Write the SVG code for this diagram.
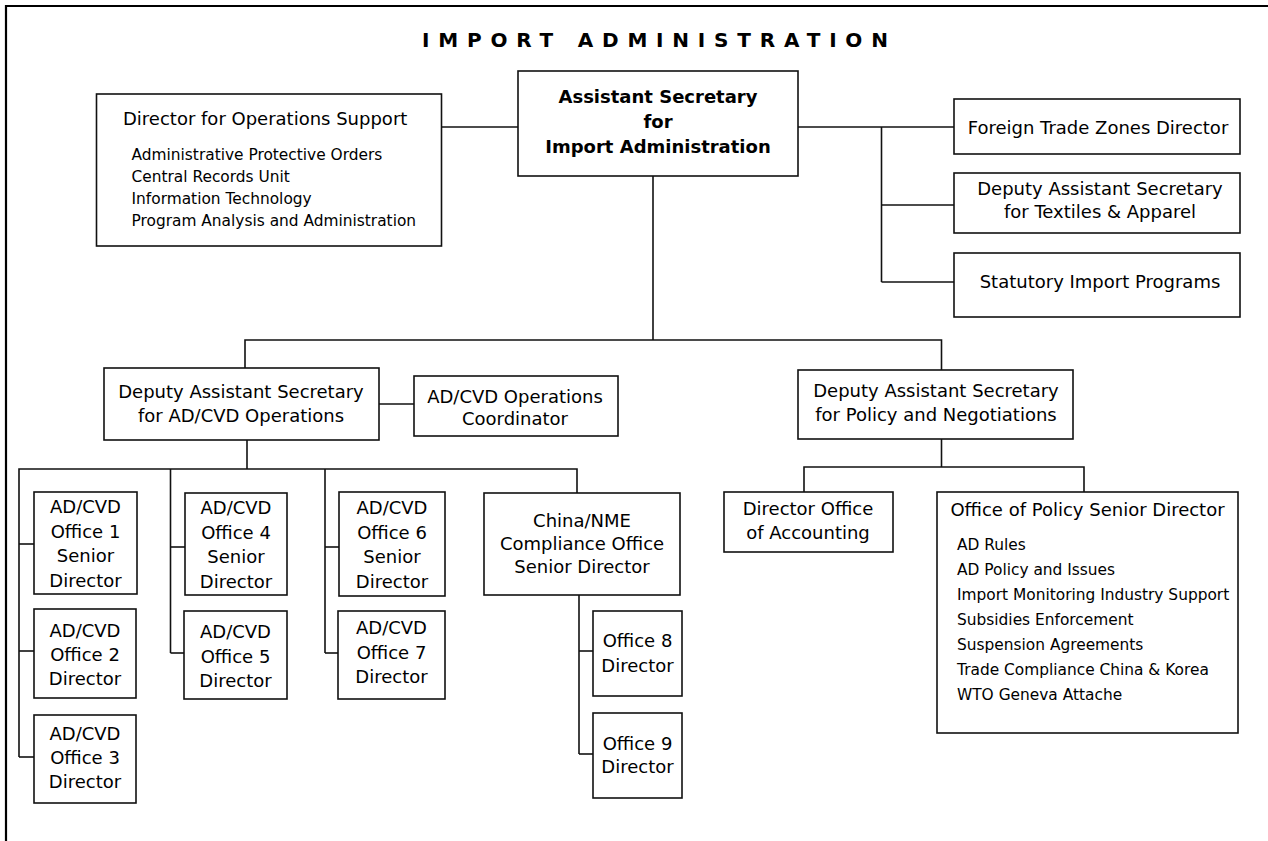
<svg xmlns="http://www.w3.org/2000/svg" width="1268" height="841" viewBox="0 0 1268 841">
<style>
  .bg { fill: #ffffff; }
  .frame { fill: none; stroke: #000; stroke-width: 2.2; }
  .box { fill: #ffffff; stroke: #111; stroke-width: 1.6; }
  .conn { fill: none; stroke: #111; stroke-width: 1.6; }
  .t { font-family: "DejaVu Sans", sans-serif; font-size: 18px; fill: #000; text-anchor: middle; }
  .tl { font-family: "DejaVu Sans", sans-serif; font-size: 18px; fill: #000; }
  .tb { font-family: "DejaVu Sans", sans-serif; font-size: 18px; font-weight: bold; fill: #000; text-anchor: middle; }
  .item { font-family: "DejaVu Sans", sans-serif; font-size: 15.4px; fill: #000; }
  .title { font-family: "DejaVu Sans", sans-serif; font-size: 20px; font-weight: bold; letter-spacing: 8.8px; fill: #000; }
</style>
<rect class="bg" x="0" y="0" width="1268" height="841"/>
<path class="frame" d="M6,841 V6 H1268"/>
<text class="title" x="422" y="46.5">IMPORT ADMINISTRATION</text>

<g id="connectors">
  <path class="conn" d="M441.5,127 H518"/>
  <path class="conn" d="M798,127 H954"/>
  <path class="conn" d="M881.5,127 V282"/>
  <path class="conn" d="M881.5,205 H954"/>
  <path class="conn" d="M881.5,282 H954"/>
  <path class="conn" d="M653,176 V340"/>
  <path class="conn" d="M245,368 V340 H941.5 V370"/>
  <path class="conn" d="M379,404 H414"/>
  <path class="conn" d="M247,440 V469"/>
  <path class="conn" d="M19,757 V469 H577 V493"/>
  <path class="conn" d="M19,544 H34"/>
  <path class="conn" d="M19,651 H34"/>
  <path class="conn" d="M19,757 H34"/>
  <path class="conn" d="M170.5,469 V653"/>
  <path class="conn" d="M170.5,547 H185"/>
  <path class="conn" d="M170.5,653 H184"/>
  <path class="conn" d="M325,469 V653"/>
  <path class="conn" d="M325,547 H339"/>
  <path class="conn" d="M325,653 H338"/>
  <path class="conn" d="M579,595 V754"/>
  <path class="conn" d="M579,651 H593"/>
  <path class="conn" d="M579,754 H593"/>
  <path class="conn" d="M941.5,439 V467"/>
  <path class="conn" d="M804,492 V467 H1084 V492"/>
</g>

<g id="ops-support">
  <rect class="box" x="96.5" y="94" width="345" height="152"/>
  <text class="tl" x="123" y="125">Director for Operations Support</text>
  <text class="item" x="131.5" y="160">Administrative Protective Orders</text>
  <text class="item" x="131.5" y="182">Central Records Unit</text>
  <text class="item" x="131.5" y="204">Information Technology</text>
  <text class="item" x="131.5" y="226">Program Analysis and Administration</text>
</g>

<g id="assistant-secretary">
  <rect class="box" x="518" y="71" width="280" height="105"/>
  <text class="tb" x="658" y="103">Assistant Secretary</text>
  <text class="tb" x="658" y="128">for</text>
  <text class="tb" x="658" y="153">Import Administration</text>
</g>

<g id="ftz">
  <rect class="box" x="954" y="99" width="286" height="55"/>
  <text class="t" x="1098" y="133.5">Foreign Trade Zones Director</text>
</g>

<g id="textiles">
  <rect class="box" x="954" y="173" width="286" height="60"/>
  <text class="t" x="1100" y="195">Deputy Assistant Secretary</text>
  <text class="t" x="1100" y="218">for Textiles &amp; Apparel</text>
</g>

<g id="statutory">
  <rect class="box" x="954" y="253" width="286" height="64"/>
  <text class="t" x="1100" y="288">Statutory Import Programs</text>
</g>

<g id="das-adcvd">
  <rect class="box" x="104" y="368" width="275" height="72"/>
  <text class="t" x="241" y="398">Deputy Assistant Secretary</text>
  <text class="t" x="241" y="422">for AD/CVD Operations</text>
</g>

<g id="coordinator">
  <rect class="box" x="414" y="376" width="204" height="60"/>
  <text class="t" x="515" y="403">AD/CVD Operations</text>
  <text class="t" x="515" y="425">Coordinator</text>
</g>

<g id="das-policy">
  <rect class="box" x="798" y="370" width="275" height="69"/>
  <text class="t" x="936" y="397">Deputy Assistant Secretary</text>
  <text class="t" x="936" y="421">for Policy and Negotiations</text>
</g>

<g id="office1">
  <rect class="box" x="34" y="492" width="103" height="102"/>
  <text class="t" x="85.5" y="513">AD/CVD</text>
  <text class="t" x="85.5" y="538">Office 1</text>
  <text class="t" x="85.5" y="562">Senior</text>
  <text class="t" x="85.5" y="587">Director</text>
</g>

<g id="office2">
  <rect class="box" x="34" y="609" width="102" height="89"/>
  <text class="t" x="85" y="637">AD/CVD</text>
  <text class="t" x="85" y="661">Office 2</text>
  <text class="t" x="85" y="685">Director</text>
</g>

<g id="office3">
  <rect class="box" x="34" y="715" width="102" height="88"/>
  <text class="t" x="85" y="740">AD/CVD</text>
  <text class="t" x="85" y="764">Office 3</text>
  <text class="t" x="85" y="788">Director</text>
</g>

<g id="office4">
  <rect class="box" x="185" y="493" width="102" height="102"/>
  <text class="t" x="236" y="514">AD/CVD</text>
  <text class="t" x="236" y="539">Office 4</text>
  <text class="t" x="236" y="563">Senior</text>
  <text class="t" x="236" y="588">Director</text>
</g>

<g id="office5">
  <rect class="box" x="184" y="611" width="103" height="88"/>
  <text class="t" x="235.5" y="638">AD/CVD</text>
  <text class="t" x="235.5" y="663">Office 5</text>
  <text class="t" x="235.5" y="687">Director</text>
</g>

<g id="office6">
  <rect class="box" x="339" y="492" width="106" height="104"/>
  <text class="t" x="392" y="514">AD/CVD</text>
  <text class="t" x="392" y="539">Office 6</text>
  <text class="t" x="392" y="563">Senior</text>
  <text class="t" x="392" y="588">Director</text>
</g>

<g id="office7">
  <rect class="box" x="338" y="611" width="107" height="88"/>
  <text class="t" x="391.5" y="634">AD/CVD</text>
  <text class="t" x="391.5" y="659">Office 7</text>
  <text class="t" x="391.5" y="683">Director</text>
</g>

<g id="china-nme">
  <rect class="box" x="484" y="493" width="196" height="102"/>
  <text class="t" x="582" y="527">China/NME</text>
  <text class="t" x="582" y="550">Compliance Office</text>
  <text class="t" x="582" y="573">Senior Director</text>
</g>

<g id="office8">
  <rect class="box" x="593" y="611" width="89" height="85"/>
  <text class="t" x="637.5" y="647">Office 8</text>
  <text class="t" x="637.5" y="672">Director</text>
</g>

<g id="office9">
  <rect class="box" x="593" y="713" width="89" height="85"/>
  <text class="t" x="637.5" y="750">Office 9</text>
  <text class="t" x="637.5" y="773">Director</text>
</g>

<g id="accounting">
  <rect class="box" x="724" y="492" width="169" height="60"/>
  <text class="t" x="808" y="515">Director Office</text>
  <text class="t" x="808" y="539">of Accounting</text>
</g>

<g id="office-policy">
  <rect class="box" x="937" y="492" width="301" height="241"/>
  <text class="t" x="1087.5" y="515.5">Office of Policy Senior Director</text>
  <text class="item" x="957" y="550">AD Rules</text>
  <text class="item" x="957" y="575">AD Policy and Issues</text>
  <text class="item" x="957" y="599.5">Import Monitoring Industry Support</text>
  <text class="item" x="957" y="624.5">Subsidies Enforcement</text>
  <text class="item" x="957" y="649.5">Suspension Agreements</text>
  <text class="item" x="957" y="674.5">Trade Compliance China &amp; Korea</text>
  <text class="item" x="957" y="699.5">WTO Geneva Attache</text>
</g>
</svg>
